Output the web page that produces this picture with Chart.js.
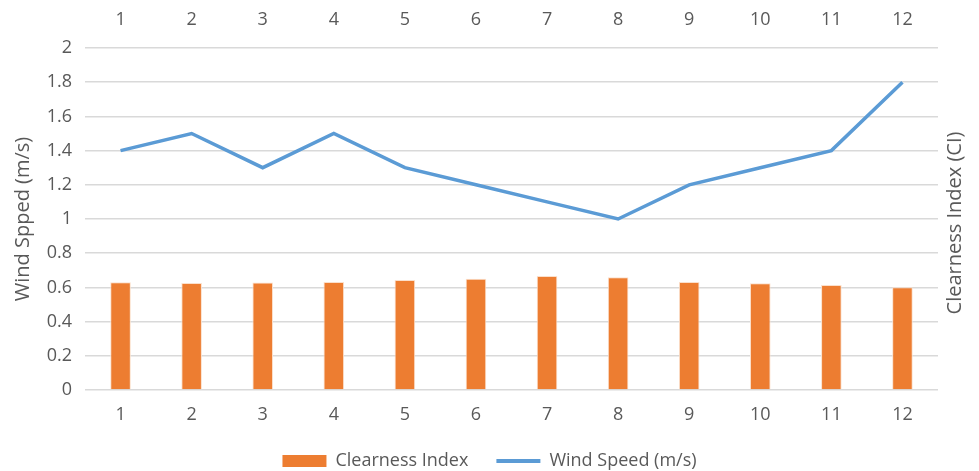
<!DOCTYPE html>
<html>
<head>
<meta charset="utf-8">
<script src="https://cdn.jsdelivr.net/npm/chart.js@4/dist/chart.umd.min.js"></script>
<style>
  html, body { margin: 0; padding: 0; background: #fff; }
  #wrap { width: 979px; height: 471px; }
</style>
</head>
<body>
<div id="wrap"><canvas id="chart" width="979" height="471"></canvas></div>
<script>
// Months of the year
const months = ['1', '2', '3', '4', '5', '6', '7', '8', '9', '10', '11', '12'];
// Monthly clearness index (CI)
const clearnessIndex = [0.630, 0.626, 0.628, 0.632, 0.643, 0.651, 0.667, 0.659, 0.632, 0.624, 0.614, 0.601];
// Monthly mean wind speed (m/s)
const windSpeed = [1.4, 1.5, 1.3, 1.5, 1.3, 1.2, 1.1, 1.0, 1.2, 1.3, 1.4, 1.8];

const TEXT = '#595959';
const GRID = '#d9d9d9';
const FAMILY = '"Open Sans", sans-serif';
const TICK_FONT = { family: FAMILY, size: 18 };
const TITLE_FONT = { family: FAMILY, size: 20 };
const RIGHT_TITLE = 'Clearness Index (CI)';

Chart.defaults.font = TICK_FONT;
Chart.defaults.color = TEXT;

// Secondary-axis title, written bottom-to-top like the primary one
const rightTitle = {
  id: 'rightTitle',
  afterDraw(chart) {
    const { ctx, chartArea } = chart;
    const y1 = chart.scales.y1;
    ctx.save();
    ctx.translate(y1.left + 17, (chartArea.top + chartArea.bottom) / 2 + 4);
    ctx.rotate(-Math.PI / 2);
    ctx.font = `${TITLE_FONT.size}px ${FAMILY}`;
    ctx.fillStyle = TEXT;
    ctx.textAlign = 'center';
    ctx.textBaseline = 'middle';
    ctx.fillText(RIGHT_TITLE, 0, 0);
    ctx.restore();
  }
};

const fmt = (v) => String(Math.round(v * 10) / 10);

new Chart(document.getElementById('chart'), {
  type: 'bar',
  data: {
    labels: months,
    datasets: [
      {
        type: 'bar',
        label: 'Clearness Index',
        data: clearnessIndex,
        backgroundColor: '#ed7d31',
        borderColor: '#fbe0cc',
        borderWidth: 1,
        barPercentage: 0.29,
        categoryPercentage: 1,
        yAxisID: 'y',
        xAxisID: 'x'
      },
      {
        type: 'line',
        label: 'Wind Speed (m/s)',
        data: windSpeed,
        borderColor: '#5b9bd5',
        backgroundColor: '#5b9bd5',
        borderWidth: 3.5,
        pointRadius: 0,
        tension: 0,
        yAxisID: 'y',
        xAxisID: 'x'
      }
    ]
  },
  plugins: [rightTitle],
  options: {
    responsive: false,
    animation: false,
    layout: { padding: 0 },
    plugins: {
      tooltip: { enabled: false },
      legend: {
        position: 'bottom',
        maxHeight: 47,
        labels: {
          usePointStyle: true,
          pointStyleWidth: 44,
          boxHeight: 12,
          padding: 28,
          color: TEXT,
          font: TICK_FONT,
          generateLabels: (chart) =>
            Chart.defaults.plugins.legend.labels.generateLabels(chart).map((item, i) => ({
              ...item,
              pointStyle: i === 0 ? 'rect' : 'line',
              lineWidth: i === 0 ? 0 : 4,
              strokeStyle: i === 0 ? '#ed7d31' : '#5b9bd5',
              fillStyle: i === 0 ? '#ed7d31' : '#5b9bd5'
            }))
        }
      }
    },
    scales: {
      x: {
        type: 'category',
        position: 'bottom',
        offset: true,
        grid: { display: false, drawTicks: false },
        border: { display: false },
        ticks: { padding: 14, color: TEXT, font: TICK_FONT, maxRotation: 0 },
        afterFit: (s) => { s.height = 34; }
      },
      x2: {
        type: 'category',
        position: 'top',
        labels: months,
        offset: true,
        grid: { display: false, drawTicks: false },
        border: { display: false },
        ticks: { padding: 17, color: TEXT, font: TICK_FONT, maxRotation: 0 },
        afterFit: (s) => { s.height = 48; }
      },
      y: {
        position: 'left',
        min: 0,
        max: 2,
        grid: { color: GRID, lineWidth: 1.5, drawTicks: false },
        border: { display: false },
        ticks: { stepSize: 0.2, padding: 13, color: TEXT, font: TICK_FONT, callback: fmt },
        title: { display: true, text: 'Wind Spped (m/s)', color: TEXT, font: TITLE_FONT, padding: { top: 11, bottom: 0 } },
        afterFit: (s) => { s.width = 85; }
      },
      y1: {
        position: 'right',
        min: 0,
        max: 2,
        grid: { display: false, drawTicks: false },
        border: { display: false },
        ticks: { display: false },
        afterFit: (s) => { s.width = 41; }
      }
    }
  }
});
</script>
</body>
</html>
